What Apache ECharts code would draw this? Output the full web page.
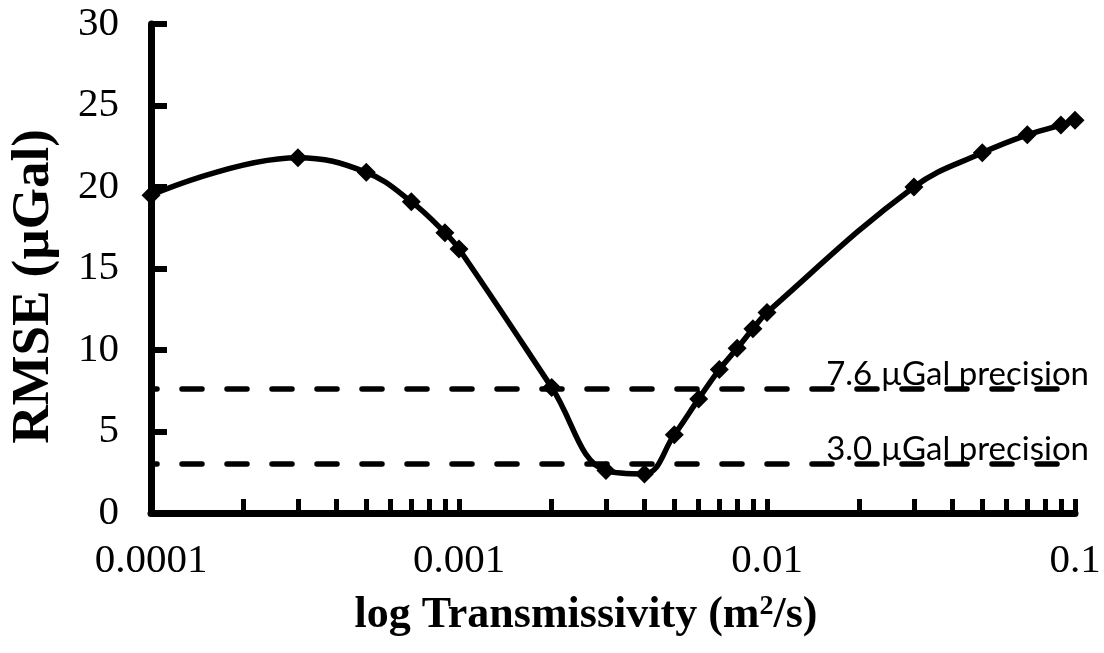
<!DOCTYPE html>
<html>
<head>
<meta charset="utf-8">
<script src="https://cdn.jsdelivr.net/npm/echarts@6/dist/echarts.min.js"></script>
<style>html,body{margin:0;padding:0;background:#fff;}#c{width:1104px;height:653px;}</style>
</head>
<body>
<div id="c"></div>
<script>
const transmissivity = [0.0001, 0.0003, 0.0005, 0.0007, 0.0009, 0.001, 0.002, 0.003, 0.004, 0.005, 0.006, 0.007, 0.008, 0.009, 0.01, 0.03, 0.05, 0.07, 0.09, 0.1];
const rmse = [19.5, 21.8, 20.9, 19.1, 17.2, 16.2, 7.7, 2.6, 2.4, 4.8, 7.0, 8.8, 10.1, 11.3, 12.3, 20.0, 22.1, 23.2, 23.8, 24.1];
const precisionLevels = [7.6, 3.0];
const precisionLabels = ['7.6 µGal precision', '3.0 µGal precision'];
const xLabelValues = [0.0001, 0.001, 0.01, 0.1];
const xLabelTexts = ['0.0001', '0.001', '0.01', '0.1'];
const xTickValues = [0.0001, 0.0002, 0.0003, 0.0004, 0.0005, 0.0006, 0.0007, 0.0008, 0.0009,
  0.001, 0.002, 0.003, 0.004, 0.005, 0.006, 0.007, 0.008, 0.009,
  0.01, 0.02, 0.03, 0.04, 0.05, 0.06, 0.07, 0.08, 0.09, 0.1];

const serif = '"Liberation Serif", "Times New Roman", serif';
const chart = echarts.init(document.getElementById('c'));
const pts = transmissivity.map((x, i) => [x, rmse[i]]);

chart.setOption({
  animation: false,
  backgroundColor: '#fff',
  grid: { left: 150, right: 29, top: 24, bottom: 140, containLabel: false },
  xAxis: {
    type: 'log', logBase: 10, min: 0.0001, max: 0.1,
    name: 'log Transmissivity (m{sup|2}/s)',
    nameLocation: 'middle', nameGap: 80,
    nameTextStyle: {
      fontFamily: serif, fontWeight: 'bold', fontSize: 44, color: '#000',
      padding: [0, 54, 0, 0],
      rich: { sup: { fontFamily: serif, fontWeight: 'bold', fontSize: 28, color: '#000', verticalAlign: 'top', padding: [0, 0, 18, 0] } }
    },
    axisLine: { show: true, onZero: false, lineStyle: { color: '#000', width: 7 } },
    axisTick: { show: true, inside: true, length: 14, lineStyle: { color: '#000', width: 5 }, customValues: xTickValues },
    axisLabel: {
      customValues: xLabelValues, margin: 28,
      fontFamily: serif, fontSize: 41, color: '#000',
      formatter: function (v) {
        const idx = xLabelValues.findIndex(t => Math.abs(Math.log10(t) - Math.log10(v)) < 1e-6);
        return idx >= 0 ? xLabelTexts[idx] : '';
      }
    },
    splitLine: { show: false },
    minorTick: { show: false }
  },
  yAxis: {
    type: 'value', min: 0, max: 30, interval: 5,
    name: 'RMSE (µGal)', nameLocation: 'middle', nameGap: 90, nameRotate: 90,
    nameTextStyle: { fontFamily: serif, fontWeight: 'bold', fontSize: 53, color: '#000', padding: [0, 36, 0, 0] },
    axisLine: { show: true, lineStyle: { color: '#000', width: 7 } },
    axisTick: { show: true, inside: true, length: 16, lineStyle: { color: '#000', width: 6 } },
    axisLabel: { margin: 32, fontFamily: serif, fontSize: 41, color: '#000' },
    splitLine: { show: false }
  },
  series: [{
    type: 'line',
    data: pts,
    smooth: 0.4,
    symbol: 'diamond', symbolSize: 19,
    itemStyle: { color: '#000' },
    lineStyle: { color: '#000', width: 5.5 },
    clip: false,
    markLine: {
      silent: true,
      symbol: ['none', 'none'],
      lineStyle: { color: '#000', width: 5.5, type: [20, 25], dashOffset: 14, cap: 'round' },
      label: {
        show: true, position: 'insideEndTop', distance: 0, offset: [14, 2],
        fontFamily: 'Lato, "Open Sans", sans-serif', fontSize: 33, color: '#000',
        formatter: function (p) { return precisionLabels[p.dataIndex]; }
      },
      data: precisionLevels.map(v => ({ yAxis: v }))
    }
  }]
});
</script>
</body>
</html>
